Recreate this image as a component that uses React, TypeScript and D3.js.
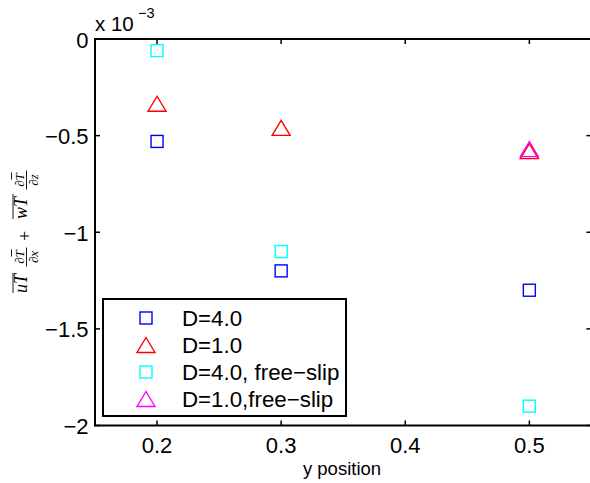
import React from "react";
import * as d3 from "d3";

// Sampling positions along y, and the flux term (units of 1e-3) for each run
const yPositions = [0.2, 0.3, 0.5];
const seriesD4 = [-0.53, -1.2, -1.3];
const seriesD1 = [-0.335, -0.46, -0.58];
const seriesD4FreeSlip = [-0.06, -1.1, -1.9];
const seriesD1FreeSlip: (number | null)[] = [null, null, -0.57];

const xTicks = [0.2, 0.3, 0.4, 0.5];
const yTicks = [0, -0.5, -1, -1.5, -2];
const legendLabels = ["D=4.0", "D=1.0", "D=4.0, free\u2212slip", "D=1.0,free\u2212slip"];

const W = 590;
const H = 483;
const left = 95;
const right = 591.4;
const top = 39;
const bottom = 425.5;

const x = d3.scaleLinear().domain([0.15, 0.55]).range([left, right]);
const y = d3.scaleLinear().domain([-2, 0]).range([bottom, top]);

const SANS = "'Liberation Sans', Arial, Helvetica, sans-serif";
const SERIF = "'Liberation Serif', 'Times New Roman', serif";

type Shape = "square" | "triangle";

function Marker({ cx, cy, shape, color }: { cx: number; cy: number; shape: Shape; color: string }) {
  if (shape === "square") {
    const s = 12;
    return (
      <rect x={cx - s / 2} y={cy - s / 2} width={s} height={s} fill="none" stroke={color} strokeWidth={1.4} />
    );
  }
  const hw = 9;
  const hh = 7.5;
  const d = `M${cx},${cy - hh}L${cx + hw},${cy + hh}L${cx - hw},${cy + hh}Z`;
  return <path d={d} fill="none" stroke={color} strokeWidth={1.4} strokeLinejoin="miter" />;
}

const series: { values: (number | null)[]; shape: Shape; color: string }[] = [
  { values: seriesD4, shape: "square", color: "#0000ff" },
  { values: seriesD1, shape: "triangle", color: "#ff0000" },
  { values: seriesD4FreeSlip, shape: "square", color: "#00ffff" },
  { values: seriesD1FreeSlip, shape: "triangle", color: "#ff00ff" },
];

function fmt(v: number) {
  const s = d3.format("")(Math.abs(v));
  return v < 0 ? "\u2212" + s : s;
}

function Fraction({ cx, num, den }: { cx: number; num: string; den: string }) {
  return (
    <g>
      <text x={cx} y={-1.5} fontSize={13} fontStyle="italic" fontFamily={SERIF} textAnchor="middle">
        {num}
      </text>
      <line x1={cx + 0.5} x2={cx + 7.5} y1={-13.5} y2={-13.5} stroke="#000" strokeWidth={0.9} />
      <line x1={cx - 9.5} x2={cx + 9.5} y1={1.5} y2={1.5} stroke="#000" strokeWidth={0.9} />
      <text x={cx} y={12.5} fontSize={13} fontStyle="italic" fontFamily={SERIF} textAnchor="middle">
        {den}
      </text>
    </g>
  );
}

function YLabel() {
  return (
    <g transform="translate(25,231) rotate(-90)">
      <text x={-62} y={2} fontSize={18} fontStyle="italic" fontFamily={SERIF}>
        uT
      </text>
      <line x1={-62} x2={-42} y1={-12} y2={-12} stroke="#000" strokeWidth={0.9} />
      <Fraction cx={-26} num={"\u2202T"} den={"\u2202x"} />
      <text x={-5} y={5.5} fontSize={18} fontFamily={SERIF} textAnchor="middle">
        +
      </text>
      <text x={12} y={2} fontSize={18} fontStyle="italic" fontFamily={SERIF}>
        wT
      </text>
      <line x1={12} x2={37} y1={-12} y2={-12} stroke="#000" strokeWidth={0.9} />
      <Fraction cx={51} num={"\u2202T"} den={"\u2202z"} />
    </g>
  );
}

export default function App() {
  const tickLen = 5;
  const legend = { x0: 103, y0: 299, x1: 346, y1: 416 };
  const rowY = (i: number) => 318 + i * 27;
  return (
    <svg
      width={W}
      height={H}
      style={{ position: "absolute", left: 0, top: 0, background: "#fff" }}
      fontFamily={SANS}
    >
      <rect x={0} y={0} width={W} height={H} fill="#fff" />

      {/* ticks on all four sides, pointing inward */}
      {xTicks.map((t) => (
        <g key={"xt" + t}>
          <line x1={x(t)} x2={x(t)} y1={bottom} y2={bottom - tickLen} stroke="#000" strokeWidth={1.5} />
          <line x1={x(t)} x2={x(t)} y1={top} y2={top + tickLen} stroke="#000" strokeWidth={1.5} />
          <text x={x(t)} y={453} fontSize={22} textAnchor="middle">
            {d3.format(".1f")(t)}
          </text>
        </g>
      ))}
      {yTicks.map((t) => (
        <g key={"yt" + t}>
          <line x1={left} x2={left + tickLen} y1={y(t)} y2={y(t)} stroke="#000" strokeWidth={1.5} />
          <line x1={right} x2={right - tickLen} y1={y(t)} y2={y(t)} stroke="#000" strokeWidth={1.5} />
          <text x={88.5} y={y(t) + 8.5} fontSize={22} textAnchor="end">
            {fmt(t)}
          </text>
        </g>
      ))}

      {/* axes box */}
      <rect
        x={left}
        y={top}
        width={right - left}
        height={bottom - top}
        fill="none"
        stroke="#000"
        strokeWidth={2}
      />

      {/* exponent */}
      <text x={95} y={30.5} fontSize={20.5}>
        x 10
      </text>
      <text x={138} y={18} fontSize={14.5}>
        {"\u22123"}
      </text>

      {/* data markers */}
      {series.map((s, si) =>
        s.values.map((v, i) =>
          v === null ? null : (
            <Marker key={`m${si}-${i}`} cx={x(yPositions[i])} cy={y(v)} shape={s.shape} color={s.color} />
          )
        )
      )}

      {/* legend */}
      <rect
        x={legend.x0}
        y={legend.y0}
        width={legend.x1 - legend.x0}
        height={legend.y1 - legend.y0}
        fill="#fff"
        stroke="#000"
        strokeWidth={2}
      />
      {series.map((s, i) => (
        <g key={"lg" + i}>
          <Marker cx={146} cy={rowY(i)} shape={s.shape} color={s.color} />
          <text x={182} y={rowY(i) + 8} fontSize={22.3}>
            {legendLabels[i]}
          </text>
        </g>
      ))}

      {/* axis labels */}
      <text x={342} y={475} fontSize={18.5} textAnchor="middle">
        y position
      </text>
      <YLabel />
    </svg>
  );
}
